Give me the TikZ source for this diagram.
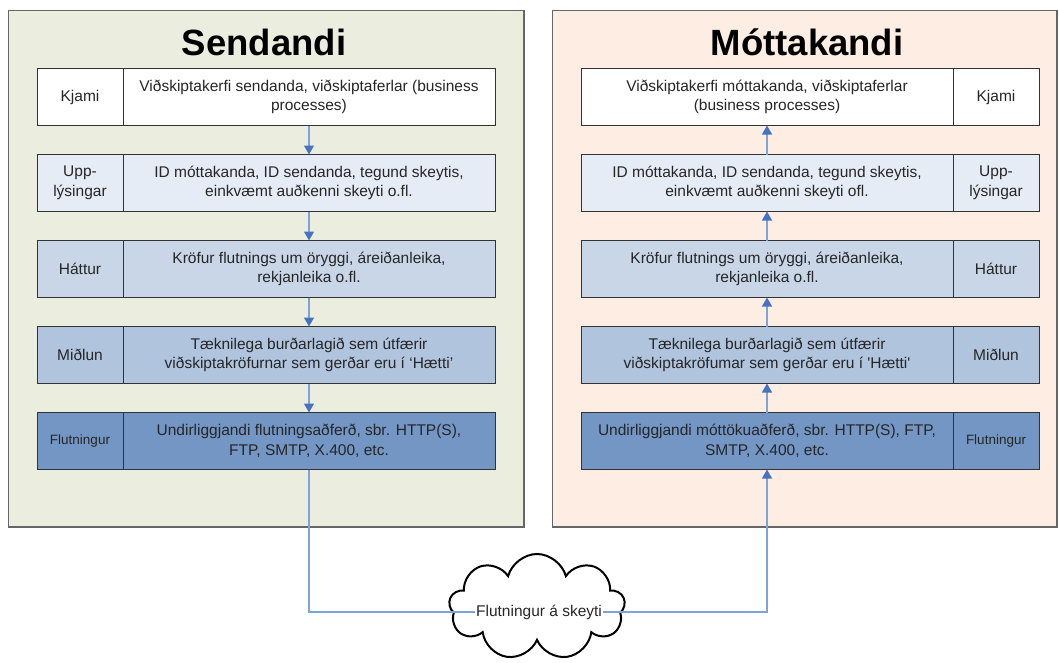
\documentclass[tikz,border=0pt]{standalone}
\usepackage{fontspec}
\setmainfont{Liberation Sans}
\usetikzlibrary{arrows.meta,positioning,shapes.symbols}

\definecolor{sendbg}{RGB}{235,238,222}
\definecolor{recvbg}{RGB}{253,237,226}
\definecolor{layB}{RGB}{230,236,246}
\definecolor{layC}{RGB}{201,214,232}
\definecolor{layD}{RGB}{176,196,222}
\definecolor{layE}{RGB}{115,150,196}
\definecolor{flowblue}{RGB}{125,163,216}
\definecolor{tipblue}{RGB}{68,114,196}

\tikzset{
  panel/.style={draw=black!60,line width=1.5pt},
  heading/.style={anchor=base,font=\fontsize{36.5}{40}\selectfont\bfseries},
  layer/.style={draw=black!80,line width=1pt,outer sep=0pt,inner sep=2pt,
    minimum height=57pt,align=center,text=black!85,
    font=\fontsize{15.5}{19.5}\selectfont},
  lbl/.style={layer,minimum width=86pt},
  body/.style={layer,minimum width=372pt},
  small/.style={font=\fontsize{13.5}{16}\selectfont},
  flow/.style={draw=flowblue,line width=1.3pt,
    -{Triangle[width=10pt,length=9pt,color=tipblue]}},
}

\begin{document}
\begin{tikzpicture}[x=1pt,y=-1pt]
  \useasboundingbox (0,0) rectangle (1059,662);

  % the two sides
  \draw[panel,fill=sendbg] (8.5,10.5) rectangle (524,527);
  \draw[panel,fill=recvbg] (552.5,10.5) rectangle (1057,527);
  \node[heading] (sendtitle) at (264,55) {Sendandi};
  \node[heading] (recvtitle) at (807,55) {Móttakandi};

  % sender stack
  \node[body,fill=white] (s1) at (309,97)
    {Viðskiptakerfi sendanda, viðskiptaferlar (business\\processes)};
  \node[body,fill=layB,below=29pt of s1] (s2)
    {ID móttakanda, ID sendanda, tegund skeytis,\\einkvæmt auðkenni skeyti o.fl.};
  \node[body,fill=layC,below=29pt of s2] (s3)
    {Kröfur flutnings um öryggi, áreiðanleika,\\rekjanleika o.fl.};
  \node[body,fill=layD,below=29pt of s3] (s4)
    {Tæknilega burðarlagið sem útfærir\\viðskiptakröfurnar sem gerðar eru í ‘Hætti’};
  \node[body,fill=layE,below=29pt of s4] (s5)
    {Undirliggjandi flutningsaðferð, sbr. HTTP(S),\\FTP, SMTP, X.400, etc.};

  \node[lbl,fill=white,left=0pt of s1] (sl1) {Kjami};
  \node[lbl,fill=layB,left=0pt of s2] (sl2) {Upp-\\lýsingar};
  \node[lbl,fill=layC,left=0pt of s3] (sl3) {Háttur};
  \node[lbl,fill=layD,left=0pt of s4] (sl4) {Miðlun};
  \node[lbl,fill=layE,small,left=0pt of s5] (sl5) {Flutningur};

  % receiver stack
  \node[body,fill=white] (r1) at (767,97)
    {Viðskiptakerfi móttakanda, viðskiptaferlar\\(business processes)};
  \node[body,fill=layB,below=29pt of r1] (r2)
    {ID móttakanda, ID sendanda, tegund skeytis,\\einkvæmt auðkenni skeyti ofl.};
  \node[body,fill=layC,below=29pt of r2] (r3)
    {Kröfur flutnings um öryggi, áreiðanleika,\\rekjanleika o.fl.};
  \node[body,fill=layD,below=29pt of r3] (r4)
    {Tæknilega burðarlagið sem útfærir\\viðskiptakröfumar sem gerðar eru í
     \textquotesingle Hætti\textquotesingle};
  \node[body,fill=layE,below=29pt of r4] (r5)
    {Undirliggjandi móttökuaðferð, sbr. HTTP(S), FTP,\\SMTP, X.400, etc.};

  \node[lbl,fill=white,right=0pt of r1] (rl1) {Kjami};
  \node[lbl,fill=layB,right=0pt of r2] (rl2) {Upp-\\lýsingar};
  \node[lbl,fill=layC,right=0pt of r3] (rl3) {Háttur};
  \node[lbl,fill=layD,right=0pt of r4] (rl4) {Miðlun};
  \node[lbl,fill=layE,small,right=0pt of r5] (rl5) {Flutningur};

  % down the sender, up the receiver
  \foreach \a/\b in {1/2,2/3,3/4,4/5} {
    \draw[flow] (s\a.south) -- (s\b.north);
    \draw[flow] (r\b.north) -- (r\a.south);
  }

  % transport
  \node[cloud,draw,line width=2pt,cloud puffs=9,aspect=1.7,
    minimum width=176pt,minimum height=106pt] (sky) at (537,607) {};
  \node[inner sep=1pt,font=\fontsize{15.5}{19}\selectfont,text=black!85]
    (skytxt) at ([shift={(2,5)}]sky.center) {Flutningur á skeyti};
  \draw[draw=flowblue,line width=1.3pt] (s5.south) |- (skytxt.west);
  \draw[flow] (skytxt.east) -| (r5.south);
\end{tikzpicture}
\end{document}
